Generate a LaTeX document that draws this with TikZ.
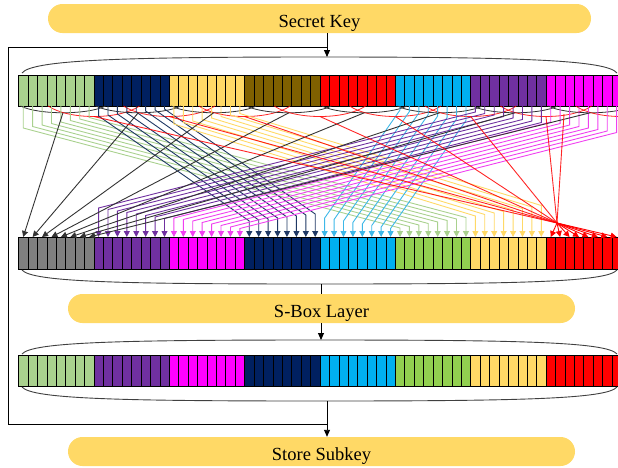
\documentclass[tikz,border=0pt]{standalone}
\usepackage{fontspec}
\setmainfont{Liberation Serif}
\usetikzlibrary{arrows.meta,calc}

\definecolor{kgreen}{HTML}{A9D18E}
\definecolor{knavy}{HTML}{002060}
\definecolor{kyellow}{HTML}{FFD966}
\definecolor{kbrown}{HTML}{7F6000}
\definecolor{kred}{HTML}{FF0000}
\definecolor{kcyan}{HTML}{00B0F0}
\definecolor{kpurple}{HTML}{7030A0}
\definecolor{kmagenta}{HTML}{FF00FF}
\definecolor{kgray}{HTML}{7F7F7F}
\definecolor{klime}{HTML}{92D050}
\definecolor{kbar}{HTML}{FFD966}
\definecolor{wnavy}{HTML}{1F3864}
\definecolor{wcyan}{HTML}{3DB8E8}
\definecolor{wmagenta}{HTML}{F040F0}

\tikzset{
  cell/.style={draw=black, line width=0.5pt, inner sep=0pt, outer sep=0pt, minimum width=9.42pt},
  bar/.style={fill=kbar, rounded corners=14.5pt, minimum height=29pt, inner sep=0pt,
              text height=17pt, text depth=0pt,
              font=\fontsize{18.5}{22}\selectfont},
  lens/.style={draw=black!75, line width=0.9pt},
  flow/.style={draw=black, line width=0.9pt},
  flowarrow/.style={flow, -{Triangle[length=7pt,width=6pt]}},
  wire/.style={line width=0.9pt, -{Triangle[length=6pt,width=6pt]}},
  plainwire/.style={line width=0.9pt},
  bitarc/.style={line width=0.8pt},
}

% one 64-bit register: name prefix, centre y, height, colours of the eight nibble groups
\newcommand\bitrow[4]{%
  \foreach \col [count=\g from 0] in {#4} {
    \foreach \b in {0,...,7} {
      \pgfmathtruncatemacro\k{8*\g+\b}
      \node[cell, fill=\col, minimum height=#3] (#1-\k) at ({18.5+(\k+0.5)*9.42}, #2) {};
    }
  }
  \draw[line width=0.9pt] (#1-0.north west) rectangle (#1-63.south east);
}

% eight parallel wires: colour, source group, target group, first bend, bend step, drop
\newcommand\bundle[6]{%
  \foreach \b in {0,...,7} {
    \pgfmathtruncatemacro\srcbit{8*#2+\b}
    \pgfmathtruncatemacro\dstbit{8*#3+\b}
    \pgfmathsetmacro\xs{18.5+(\srcbit+0.5)*9.42}
    \pgfmathsetmacro\xt{18.5+(\dstbit+0.5)*9.42}
    \pgfmathsetmacro\yb{#4+(#5)*\b}
    \pgfmathsetmacro\ye{\yb+#6}
    \draw[wire, #1] (a-\srcbit.south) -- (\xs,\yb) -- (\xt,\ye) -- (b-\dstbit.north);
  }
}

\begin{document}
\begin{tikzpicture}[x=1pt, y=-1pt]
\useasboundingbox (0,0) rectangle (618,467);

% process bars
\node[bar, minimum width=543pt] (key)   at (319.5,18.5) {Secret Key};
\node[bar, minimum width=507pt] (sbox)  at (321.5,308.5) {S-Box Layer};
\node[bar, minimum width=507pt] (store) at (321.5,451.5) {Store Subkey};

% registers
\bitrow{a}{90.5}{31pt}{kgreen,knavy,kyellow,kbrown,kred,kcyan,kpurple,kmagenta}
\bitrow{b}{253}{32pt}{kgray,kpurple,kmagenta,knavy,kcyan,klime,kyellow,kred}
\bitrow{c}{370.5}{31pt}{kgreen,kpurple,kmagenta,knavy,kcyan,klime,kyellow,kred}

% lenses around the registers
\draw[lens] (22,73) .. controls (32,60) and (120,57) .. (320,57) .. controls (520,57) and (607,60) .. (617,73);
\draw[lens] (22,270) .. controls (32,282) and (120,284) .. (320,284) .. controls (520,284) and (607,282) .. (617,270);
\draw[lens] (22,354) .. controls (32,342) and (120,340) .. (320,340) .. controls (520,340) and (607,342) .. (617,354);
\draw[lens] (22,387) .. controls (32,399) and (120,401) .. (320,401) .. controls (520,401) and (607,399) .. (617,387);

% arcs under the first register
\foreach \g in {0,...,7} {
  \pgfmathsetmacro\gs{18.5+75.36*\g}
  \draw[bitarc, black!80] (\gs+2,106) .. controls (\gs+20,115) and (\gs+69,115) .. (\gs+87,106);
  \coordinate (kb-\g) at (\gs+44.5,112.7);
  \draw[bitarc, kred, opacity=0.85] (\gs+29.7,106) .. controls (\gs+50,120) and (\gs+100.7,120) .. (\gs+121,106);
  \pgfmathsetmacro\rx{\g<7 ? \gs+75.36 : 564}
  \pgfmathsetmacro\ry{\g<7 ? 116.5 : 114}
  \coordinate (kr-\g) at (\rx,\ry);
}

% permutation wires
\bundle{kgreen}{0}{5}{128}{-1.5}{100}
\bundle{wnavy}{1}{3}{116}{-1}{105}
\bundle{kyellow}{2}{6}{124}{-1.5}{92}
\bundle{wcyan}{5}{4}{110}{1.5}{108}
\bundle{kpurple}{6}{1}{112}{1.5}{96}
\bundle{wmagenta}{7}{2}{122}{1.5}{96}

% one bit of every group into the grey nibble
\foreach \g in {0,...,7} {
  \draw[wire, black!80] (kb-\g) -- (b-\g.north);
}

% red wires gather at a hub and fan out into the red nibble
\coordinate (hub) at (557,223);
\foreach \g in {0,...,7} {
  \draw[plainwire, kred, opacity=0.85] (kr-\g) -- (hub);
}
\foreach \b in {56,...,63} {
  \draw[wire, kred] (hub) -- (b-\b.north);
}

% control flow
\coordinate (l1top) at (327,57);
\coordinate (lt) at (327,47);
\coordinate (lc) at (8,47);
\coordinate (lb) at (8,424);
\coordinate (lr) at (327,424);
\coordinate (l2bot) at (321,284);
\coordinate (l3top) at (321,340);
\coordinate (l3bot) at (327,401);
\draw[flowarrow] (key.south -| l1top) -- (l1top);
\draw[flow] (lr) -- (lb) -- (lc) -- (lt);
\draw[flow] (l2bot) -- (sbox.north -| l2bot);
\draw[flowarrow] (sbox.south -| l3top) -- (l3top);
\draw[flowarrow] (l3bot) -- (store.north -| l3bot);
\end{tikzpicture}
\end{document}
